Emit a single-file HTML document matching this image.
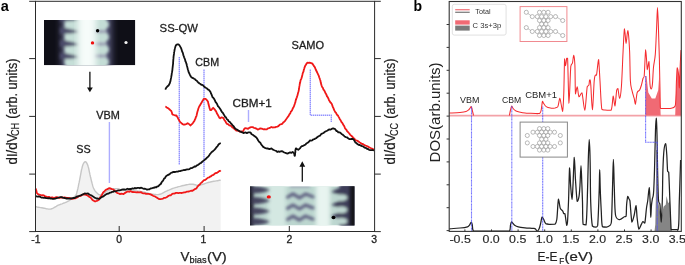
<!DOCTYPE html>
<html><head><meta charset="utf-8"><style>
html,body{margin:0;padding:0;background:#fff;}
body{width:685px;height:265px;overflow:hidden;}
svg{display:block;font-family:"Liberation Sans",sans-serif;will-change:transform;}
</style></head><body>
<svg width="685" height="265" viewBox="0 0 685 265">
<defs>
<filter id="bl1" x="-20%" y="-20%" width="140%" height="140%"><feGaussianBlur stdDeviation="2.2"/></filter>
<filter id="bl2" x="-20%" y="-20%" width="140%" height="140%"><feGaussianBlur stdDeviation="1.6"/></filter>
<filter id="bl3" x="-20%" y="-20%" width="140%" height="140%"><feGaussianBlur stdDeviation="0.6"/></filter>
<filter id="bl4" x="-20%" y="-20%" width="140%" height="140%"><feGaussianBlur stdDeviation="1.9"/></filter>
<filter id="bl5" x="-20%" y="-20%" width="140%" height="140%"><feGaussianBlur stdDeviation="3.2"/></filter>
<clipPath id="c1"><rect x="44" y="20" width="91.3" height="45.3"/></clipPath>
<clipPath id="c2"><rect x="250" y="186.3" width="104.5" height="39.2"/></clipPath>
<clipPath id="cb"><rect x="449.2" y="1.5" width="232" height="230"/></clipPath>
</defs>
<rect width="685" height="265" fill="#fff"/>

<polygon points="35.5,206.7 36.2,206.8 37.1,207.0 38.2,207.2 39.4,207.4 40.6,207.6 41.8,207.8 43.0,208.0 44.1,208.2 45.2,208.4 46.3,208.7 47.5,208.9 48.6,209.1 49.7,209.1 50.8,209.0 51.7,208.8 52.7,208.4 53.6,207.9 54.4,207.4 55.4,206.8 56.3,206.3 57.3,205.7 58.3,205.2 59.2,204.8 60.1,204.5 61.0,204.1 62.0,203.8 63.0,203.4 64.0,203.0 65.0,202.7 65.9,202.3 66.8,201.9 67.7,201.4 68.7,200.9 69.6,200.3 70.6,199.7 71.5,199.0 72.4,198.4 73.2,197.7 74.0,197.1 74.7,196.4 75.3,195.8 76.0,194.9 76.4,194.1 76.7,193.3 76.9,192.4 77.2,191.3 77.5,190.0 77.7,189.2 77.9,188.4 78.1,187.4 78.3,186.5 78.5,185.4 78.7,184.4 78.9,183.3 79.2,182.2 79.4,181.1 79.6,180.1 79.8,179.0 80.0,178.0 80.2,177.0 80.4,175.9 80.6,174.8 80.8,173.7 81.0,172.6 81.2,171.5 81.4,170.5 81.6,169.4 81.9,168.5 82.1,167.6 82.3,166.7 82.5,166.0 83.0,164.5 83.6,163.3 84.2,162.4 84.7,161.9 85.3,161.7 85.8,161.9 86.4,162.5 86.9,163.4 87.5,164.6 88.0,166.0 88.2,166.7 88.5,167.6 88.7,168.5 88.9,169.5 89.1,170.5 89.3,171.6 89.6,172.7 89.8,173.8 90.0,174.9 90.3,176.0 90.5,177.0 90.8,178.0 91.0,179.1 91.3,180.2 91.5,181.3 91.8,182.3 92.1,183.4 92.4,184.4 92.6,185.4 92.9,186.4 93.2,187.2 93.5,188.0 94.1,189.2 94.6,190.2 95.2,191.1 95.8,191.8 96.4,192.4 97.0,193.0 97.8,193.8 98.6,194.5 99.5,194.9 100.8,194.8 101.5,194.5 102.4,194.1 103.3,193.6 104.3,192.9 105.3,192.3 106.3,191.6 107.3,191.0 108.3,190.4 109.2,190.0 110.3,189.6 111.5,189.3 112.6,189.0 113.8,188.8 114.8,188.7 115.8,188.6 116.8,188.6 117.9,188.7 118.9,189.0 119.8,189.4 120.8,189.7 122.0,190.0 122.8,190.1 123.7,190.2 124.7,190.2 125.7,190.3 126.7,190.3 127.7,190.4 128.8,190.4 130.0,190.5 130.9,190.6 131.9,190.6 132.9,190.7 133.8,190.8 134.9,190.8 135.9,190.9 137.0,191.0 138.2,191.2 139.5,191.3 140.8,191.5 141.7,191.6 142.6,191.8 143.6,192.1 144.7,192.3 145.8,192.6 146.9,192.8 148.0,193.1 149.1,193.4 150.3,193.6 151.4,193.9 152.5,194.1 153.6,194.3 154.6,194.4 155.6,194.5 156.5,194.6 157.4,194.6 158.6,194.5 159.7,194.3 160.7,194.0 161.7,193.6 162.6,193.2 163.5,192.7 164.4,192.2 165.2,191.7 166.0,191.3 166.9,190.9 167.7,190.5 168.8,190.1 169.8,189.7 170.7,189.3 171.6,188.9 172.5,188.5 173.5,188.2 174.7,187.8 176.0,187.4 176.9,187.2 177.8,186.9 178.8,186.6 179.9,186.4 181.0,186.1 182.1,185.8 183.3,185.5 184.5,185.3 185.6,185.0 186.7,184.8 187.8,184.6 188.8,184.4 189.7,184.3 190.6,184.2 191.9,184.2 193.1,184.3 194.1,184.5 195.0,184.7 195.9,185.0 196.8,185.2 197.8,185.3 198.9,185.3 199.8,185.2 200.8,184.9 201.8,184.6 202.8,184.3 203.8,184.0 204.9,183.6 206.0,183.2 207.0,182.8 208.1,182.5 209.2,182.2 210.2,182.0 211.4,181.7 212.6,181.5 213.8,181.3 215.0,181.1 216.2,180.9 217.3,180.7 218.4,180.5 219.3,180.3 220.1,180.2 220.7,180.1 220.7,231.5 35.5,231.5" fill="#f2f2f2"/>
<polyline points="35.5,206.7 36.2,206.8 37.1,207.0 38.2,207.2 39.4,207.4 40.6,207.6 41.8,207.8 43.0,208.0 44.1,208.2 45.2,208.4 46.3,208.7 47.5,208.9 48.6,209.1 49.7,209.1 50.8,209.0 51.7,208.8 52.7,208.4 53.6,207.9 54.4,207.4 55.4,206.8 56.3,206.3 57.3,205.7 58.3,205.2 59.2,204.8 60.1,204.5 61.0,204.1 62.0,203.8 63.0,203.4 64.0,203.0 65.0,202.7 65.9,202.3 66.8,201.9 67.7,201.4 68.7,200.9 69.6,200.3 70.6,199.7 71.5,199.0 72.4,198.4 73.2,197.7 74.0,197.1 74.7,196.4 75.3,195.8 76.0,194.9 76.4,194.1 76.7,193.3 76.9,192.4 77.2,191.3 77.5,190.0 77.7,189.2 77.9,188.4 78.1,187.4 78.3,186.5 78.5,185.4 78.7,184.4 78.9,183.3 79.2,182.2 79.4,181.1 79.6,180.1 79.8,179.0 80.0,178.0 80.2,177.0 80.4,175.9 80.6,174.8 80.8,173.7 81.0,172.6 81.2,171.5 81.4,170.5 81.6,169.4 81.9,168.5 82.1,167.6 82.3,166.7 82.5,166.0 83.0,164.5 83.6,163.3 84.2,162.4 84.7,161.9 85.3,161.7 85.8,161.9 86.4,162.5 86.9,163.4 87.5,164.6 88.0,166.0 88.2,166.7 88.5,167.6 88.7,168.5 88.9,169.5 89.1,170.5 89.3,171.6 89.6,172.7 89.8,173.8 90.0,174.9 90.3,176.0 90.5,177.0 90.8,178.0 91.0,179.1 91.3,180.2 91.5,181.3 91.8,182.3 92.1,183.4 92.4,184.4 92.6,185.4 92.9,186.4 93.2,187.2 93.5,188.0 94.1,189.2 94.6,190.2 95.2,191.1 95.8,191.8 96.4,192.4 97.0,193.0 97.8,193.8 98.6,194.5 99.5,194.9 100.8,194.8 101.5,194.5 102.4,194.1 103.3,193.6 104.3,192.9 105.3,192.3 106.3,191.6 107.3,191.0 108.3,190.4 109.2,190.0 110.3,189.6 111.5,189.3 112.6,189.0 113.8,188.8 114.8,188.7 115.8,188.6 116.8,188.6 117.9,188.7 118.9,189.0 119.8,189.4 120.8,189.7 122.0,190.0 122.8,190.1 123.7,190.2 124.7,190.2 125.7,190.3 126.7,190.3 127.7,190.4 128.8,190.4 130.0,190.5 130.9,190.6 131.9,190.6 132.9,190.7 133.8,190.8 134.9,190.8 135.9,190.9 137.0,191.0 138.2,191.2 139.5,191.3 140.8,191.5 141.7,191.6 142.6,191.8 143.6,192.1 144.7,192.3 145.8,192.6 146.9,192.8 148.0,193.1 149.1,193.4 150.3,193.6 151.4,193.9 152.5,194.1 153.6,194.3 154.6,194.4 155.6,194.5 156.5,194.6 157.4,194.6 158.6,194.5 159.7,194.3 160.7,194.0 161.7,193.6 162.6,193.2 163.5,192.7 164.4,192.2 165.2,191.7 166.0,191.3 166.9,190.9 167.7,190.5 168.8,190.1 169.8,189.7 170.7,189.3 171.6,188.9 172.5,188.5 173.5,188.2 174.7,187.8 176.0,187.4 176.9,187.2 177.8,186.9 178.8,186.6 179.9,186.4 181.0,186.1 182.1,185.8 183.3,185.5 184.5,185.3 185.6,185.0 186.7,184.8 187.8,184.6 188.8,184.4 189.7,184.3 190.6,184.2 191.9,184.2 193.1,184.3 194.1,184.5 195.0,184.7 195.9,185.0 196.8,185.2 197.8,185.3 198.9,185.3 199.8,185.2 200.8,184.9 201.8,184.6 202.8,184.3 203.8,184.0 204.9,183.6 206.0,183.2 207.0,182.8 208.1,182.5 209.2,182.2 210.2,182.0 211.4,181.7 212.6,181.5 213.8,181.3 215.0,181.1 216.2,180.9 217.3,180.7 218.4,180.5 219.3,180.3 220.1,180.2 220.7,180.1" fill="none" stroke="#c6c6c6" stroke-width="1.4"/>
<line x1="109.4" y1="122.3" x2="109.4" y2="183" stroke="#5050ff" stroke-width="1.4" stroke-dasharray="1.4 0.6" opacity="0.62"/>
<line x1="179.3" y1="57" x2="179.3" y2="164.5" stroke="#5050ff" stroke-width="1.4" stroke-dasharray="1.4 0.6" opacity="0.62"/>
<line x1="204" y1="69.5" x2="204" y2="177" stroke="#5050ff" stroke-width="1.4" stroke-dasharray="1.4 0.6" opacity="0.62"/>
<line x1="248.5" y1="110.3" x2="248.5" y2="122.3" stroke="#5050ff" stroke-width="1.4" stroke-dasharray="1.4 0.6" opacity="0.62"/>
<polyline points="310.3,69.6 310.3,115.3 331.3,115.3 331.3,122.6" fill="none" stroke="#5050ff" stroke-width="1.4" stroke-dasharray="1.4 0.6" opacity="0.62"/>
<polyline points="35.5,188.5 35.9,189.3 36.5,191.3 36.7,192.7 37.5,193.7 38.3,194.3 39.4,194.6 40.6,195.0 41.8,195.4 43.0,195.2 44.1,195.5 45.2,196.5 46.3,196.6 47.5,197.2 48.9,196.9 49.9,197.4 51.0,197.7 52.2,197.3 53.4,197.9 54.6,197.9 55.9,197.2 57.1,197.2 58.3,197.6 59.5,198.0 60.7,197.6 62.0,197.5 63.2,197.7 64.4,197.4 65.6,197.6 66.7,197.9 67.7,198.0 69.0,198.0 70.2,198.3 71.2,198.5 72.2,198.9 73.4,198.6 74.4,198.1 75.5,198.3 76.7,197.6 77.8,197.0 79.0,196.1 80.0,196.2 81.0,195.7 82.4,194.6 83.5,194.4 84.6,194.5 85.7,194.6 86.6,195.1 87.6,195.3 88.5,196.3 89.5,197.0 90.4,197.4 91.4,198.5 92.3,199.7 93.3,200.5 94.2,201.0 95.1,201.5 96.4,201.0 97.6,200.6 98.9,199.7 99.5,198.7 100.0,197.6 100.6,196.9 101.2,196.0 101.9,194.9 102.5,193.6 103.0,192.7 103.6,192.0 104.6,191.1 105.5,190.2 106.4,189.5 107.4,189.2 108.5,188.4 109.6,188.2 110.8,188.7 112.0,189.2 112.9,189.3 113.9,189.9 114.8,190.5 115.8,191.6 116.8,192.7 117.7,193.1 118.9,193.5 120.1,194.1 121.3,193.7 122.5,193.9 123.6,194.0 124.7,193.1 125.9,192.4 127.1,191.7 128.3,191.5 129.4,191.8 130.5,191.1 131.7,191.8 132.8,192.0 133.9,192.2 135.0,192.2 136.2,192.3 137.5,192.2 138.6,192.3 139.8,192.3 140.8,192.1 142.2,193.1 143.4,193.3 144.9,193.4 146.0,193.8 147.1,193.8 148.4,193.9 149.7,194.1 151.1,194.6 152.0,195.1 153.0,195.7 154.1,196.2 155.1,196.5 156.2,197.3 157.3,197.9 158.3,198.6 159.4,199.1 160.6,199.1 161.8,198.9 163.1,198.6 164.3,197.8 165.5,197.8 166.6,197.2 167.7,196.4 168.8,195.8 169.8,195.3 170.7,195.3 171.7,194.3 172.7,193.7 174.0,193.7 175.0,193.3 176.0,192.9 177.1,192.9 178.3,193.1 179.5,192.8 180.7,192.8 181.9,193.0 183.1,192.7 184.3,192.4 185.5,192.3 186.6,191.7 187.8,191.7 189.0,191.5 190.2,191.0 191.4,190.6 192.5,190.8 193.6,190.0 194.7,189.2 195.6,188.9 196.5,188.3 197.3,186.8 198.2,185.9 199.0,185.1 199.8,184.6 200.6,183.2 201.4,182.8 202.2,182.0 203.0,181.1 204.0,180.1 205.0,180.0 206.1,179.2 207.1,178.4 208.1,177.6 209.1,177.4 210.2,176.6 211.3,176.1 212.3,175.2 213.5,174.8 214.7,173.6 215.9,173.0 217.1,172.8 218.2,172.1 219.2,171.0 220.1,171.0 220.7,170.3" fill="none" stroke="#f01818" stroke-width="1.8" stroke-linejoin="round"/>
<polyline points="35.5,195.8 36.3,196.4 37.5,196.7 38.8,196.3 40.1,196.7 41.3,197.6 42.5,197.7 43.6,197.8 44.7,197.7 46.0,198.1 47.0,198.2 48.0,198.3 49.1,198.1 50.3,198.5 51.4,198.5 52.6,198.8 53.8,198.9 55.1,198.7 56.4,198.1 57.8,197.8 59.0,197.5 60.2,197.2 61.5,197.2 62.7,197.7 63.8,197.8 64.9,198.0 66.0,198.5 67.1,198.4 68.1,198.6 69.2,198.5 70.3,198.3 71.5,198.5 72.5,198.1 73.5,198.0 74.6,198.0 75.7,197.3 76.9,196.4 78.0,196.5 79.0,196.0 80.2,195.5 81.4,195.1 82.5,194.5 83.6,194.1 84.7,193.4 85.7,193.7 87.0,193.7 88.0,193.4 89.1,194.4 90.4,195.0 91.3,195.3 92.3,196.0 93.4,196.7 94.5,197.7 95.7,198.0 96.8,198.7 97.9,198.5 99.0,198.8 100.1,198.4 101.2,197.4 102.2,196.8 103.3,196.4 104.4,195.6 105.5,194.8 106.6,194.1 107.6,193.7 108.7,193.5 109.8,192.6 110.9,192.7 111.9,191.8 113.0,191.9 114.1,191.1 115.2,191.4 116.4,191.0 117.5,190.6 118.6,190.4 119.6,190.4 120.6,190.2 121.9,189.7 123.1,189.4 124.2,189.5 125.2,189.7 126.2,189.3 127.5,188.7 128.6,189.2 130.4,189.0 131.3,189.0 132.4,188.4 133.6,188.7 134.8,188.0 136.1,188.3 137.4,187.9 138.7,187.8 139.8,188.3 140.8,187.7 142.3,188.2 143.6,188.8 144.7,188.7 145.8,189.0 147.0,189.7 148.2,189.3 149.5,189.3 150.7,188.4 152.0,188.3 153.2,187.7 154.2,187.8 155.3,187.1 156.3,187.4 157.3,186.3 158.4,186.3 159.4,184.9 160.1,184.4 160.8,184.0 161.5,182.5 162.2,181.5 162.9,180.9 163.6,179.6 164.3,178.3 165.0,178.2 165.7,176.7 166.7,175.7 167.7,175.1 168.7,174.6 169.7,174.1 170.7,173.0 171.9,172.7 173.0,172.0 174.1,172.0 175.3,172.0 176.5,171.7 177.8,171.6 179.0,171.2 180.2,171.1 181.4,170.7 182.6,170.4 183.8,170.0 184.9,170.2 186.1,169.7 187.3,169.3 188.5,169.3 189.5,169.2 190.6,168.2 191.7,168.2 192.8,167.5 193.8,167.1 194.9,166.3 195.8,166.5 196.8,165.4 197.8,165.1 198.9,164.3 199.9,163.4 200.8,163.2 201.7,162.2 202.5,161.5 203.3,160.9 204.4,160.1 205.2,159.3 205.9,158.9 206.8,157.8 207.5,157.4 208.3,156.5 209.1,155.6 209.9,154.1 210.7,153.3 211.5,152.3 212.5,151.6 213.5,150.6 214.4,149.8 215.3,148.9 216.1,147.7 217.1,146.7 217.8,145.8 218.5,144.5 219.8,143.5 220.8,143.2" fill="none" stroke="#111" stroke-width="1.8" stroke-linejoin="round"/>
<polyline points="165.3,106.7 166.1,106.9 167.1,107.8 168.4,108.4 169.6,109.5 170.5,110.3 171.3,111.0 171.8,112.3 172.3,114.3 172.9,114.7 174.0,115.0 175.2,115.5 176.4,115.5 177.0,116.5 177.6,117.3 178.2,118.7 178.7,119.4 179.3,120.8 180.3,122.2 181.2,122.9 182.2,123.9 183.7,124.7 185.1,124.5 186.3,124.1 187.5,123.2 188.4,123.6 189.4,124.4 190.4,125.5 191.3,124.7 192.2,123.9 193.1,122.8 193.9,121.5 194.5,120.7 194.9,119.4 195.4,118.7 195.8,117.3 196.3,116.4 196.6,115.4 197.0,113.5 197.3,112.3 197.6,111.1 197.9,110.4 198.3,108.8 198.6,108.0 199.2,106.5 199.7,105.7 200.3,104.7 200.9,103.7 201.5,102.8 202.1,101.6 202.8,100.6 203.4,99.4 203.9,98.8 205.6,98.8 206.4,99.6 207.2,100.5 208.0,101.7 208.3,103.3 208.6,104.6 209.0,105.9 209.3,107.0 209.6,108.4 209.9,109.0 210.3,110.2 211.3,110.0 212.3,108.7 213.2,107.8 214.9,109.6 215.5,110.7 216.1,111.2 216.7,113.0 217.3,114.0 217.9,115.0 218.5,116.1 219.3,117.7 220.2,118.4 221.3,117.4 222.5,117.6 223.5,118.1 224.3,120.0 225.5,121.4 226.1,122.8 227.0,123.9 228.0,124.2 229.3,125.4 230.5,125.6 231.4,126.2 232.2,127.3 233.1,127.6 234.0,128.5 235.2,129.5 236.3,130.5 237.5,130.7 238.8,131.0 240.0,131.8 241.1,131.5 242.8,131.4 243.5,130.4 244.3,128.8 245.1,128.1 246.6,128.3 248.1,128.8 249.8,127.6 251.1,127.1 252.7,127.1 253.9,127.8 255.2,128.1 256.3,128.6 257.6,129.5 258.6,129.4 259.5,128.7 260.4,128.5 261.7,128.6 263.3,129.3 264.4,129.1 265.6,129.4 266.8,129.4 267.9,128.4 269.0,128.1 270.3,127.6 271.4,127.0 272.6,127.5 273.8,127.4 275.0,127.4 276.2,126.8 277.3,126.6 278.4,126.1 279.6,124.8 280.6,124.3 281.5,124.1 282.5,123.6 283.4,122.3 284.3,121.7 285.1,120.9 285.8,119.7 286.5,118.8 287.2,117.8 287.8,116.9 288.5,116.1 289.1,114.9 289.6,114.1 290.3,113.2 290.8,111.7 291.4,111.1 292.1,110.2 292.7,108.7 293.3,107.5 293.8,106.8 294.3,105.3 294.7,104.1 295.0,103.1 295.4,102.1 295.7,100.4 296.1,99.4 296.4,98.3 296.8,97.6 297.2,96.1 297.5,95.3 297.9,93.6 298.2,92.5 298.5,91.5 298.7,90.6 299.0,89.0 299.2,87.5 299.4,86.1 299.6,85.2 299.8,83.7 300.0,83.2 300.2,82.3 300.6,80.2 301.0,79.4 301.4,78.6 301.7,77.5 302.0,76.4 302.4,74.8 302.7,73.4 303.1,72.3 303.5,71.5 303.8,69.9 304.2,68.7 304.5,67.6 304.9,66.6 305.4,65.4 305.9,64.9 306.6,63.5 307.5,62.7 308.6,62.9 309.6,62.6 311.1,63.1 312.5,63.7 313.3,65.1 314.0,66.2 314.8,67.1 315.3,68.4 315.7,69.5 316.2,70.5 316.7,71.5 317.2,72.5 317.7,73.6 318.2,74.7 318.8,75.9 319.3,77.6 319.7,78.5 320.1,79.8 320.4,80.5 320.7,82.3 320.9,83.0 321.2,84.2 321.5,85.3 321.9,86.4 322.4,87.4 322.9,87.9 323.4,89.5 324.0,90.1 324.7,91.3 325.3,92.7 325.9,93.7 326.4,94.6 326.9,96.1 327.5,96.9 328.0,97.8 328.5,98.7 329.0,100.2 329.4,100.7 330.3,102.3 331.1,103.0 331.8,104.0 332.3,105.4 332.8,106.9 333.3,107.7 333.8,109.2 334.3,110.4 334.9,111.4 335.4,112.4 335.9,112.6 336.6,114.0 337.4,115.3 337.9,115.4 338.5,116.6 339.1,117.6 339.7,118.9 340.4,119.9 340.9,120.9 341.5,122.2 342.1,122.6 342.6,123.5 343.3,124.7 343.8,125.6 344.4,126.5 345.0,128.2 345.6,129.1 346.2,129.5 346.9,130.8 347.6,131.6 348.4,132.5 349.3,133.5 350.1,134.6 350.9,135.4 351.6,136.0 352.5,136.9 353.3,137.9 354.2,138.5 355.1,139.6 356.0,140.4 356.9,140.7 357.9,141.1 358.8,141.7 359.8,142.4 361.0,143.2 362.1,144.0 363.2,144.2 364.4,145.1 365.6,145.6 366.8,146.0 368.0,146.6 369.1,147.2 370.5,148.0 371.9,148.5 372.9,149.2 374.0,149.5" fill="none" stroke="#f01818" stroke-width="1.8" stroke-linejoin="round"/>
<polyline points="165.3,89.6 165.8,88.5 166.6,87.3 167.3,86.5 168.8,85.2 169.1,84.5 169.4,83.9 169.8,83.3 170.1,82.1 170.5,80.9 170.8,79.1 171.1,77.9 171.3,76.7 171.5,75.5 171.7,74.3 171.8,73.1 172.0,72.4 172.2,71.1 172.4,69.8 172.5,68.5 172.7,66.8 172.8,65.8 172.9,65.1 173.1,63.7 173.1,62.5 173.2,61.4 173.3,59.7 173.4,58.9 173.5,57.6 173.6,56.4 173.8,55.0 174.0,53.9 174.1,52.3 174.3,51.7 174.5,50.3 174.8,48.9 175.0,47.7 175.2,47.3 175.9,45.3 176.7,44.7 177.5,44.4 178.5,44.4 179.5,45.4 180.5,47.1 180.9,47.8 181.3,48.7 181.7,50.0 182.2,51.7 182.6,52.3 183.0,53.6 183.4,55.3 183.8,56.2 184.2,57.6 184.7,58.7 185.1,59.8 185.5,61.5 185.9,62.1 186.3,63.4 186.6,64.3 186.9,65.8 187.2,66.7 187.5,67.9 187.8,69.3 188.1,70.0 188.4,71.2 188.7,72.3 189.2,73.2 189.7,74.3 190.3,75.5 191.0,76.9 191.9,77.6 193.0,78.1 194.1,78.8 195.1,79.3 196.0,80.3 196.8,80.7 197.7,81.9 198.6,82.8 199.5,83.5 200.5,84.0 201.4,84.9 202.4,84.8 203.3,85.6 204.6,87.1 205.7,87.8 206.8,88.3 207.8,89.4 208.8,89.8 209.7,91.0 210.2,91.4 210.6,92.3 211.0,93.5 211.5,94.4 212.0,95.7 212.5,97.1 213.1,97.6 213.7,98.3 214.3,99.3 214.9,100.4 215.5,101.9 216.1,102.6 216.7,103.5 217.2,104.3 217.8,106.0 218.4,106.5 219.0,107.3 219.7,108.2 220.4,109.3 221.1,110.5 221.8,111.9 222.5,112.5 223.2,113.4 223.8,114.7 224.5,115.5 225.1,117.0 225.8,117.2 226.5,118.4 227.2,119.4 228.0,120.0 228.7,121.3 229.4,121.7 230.3,122.5 231.2,123.7 232.0,124.4 232.9,125.7 233.8,126.5 234.7,128.0 235.5,128.8 236.4,129.3 237.6,129.8 238.7,130.8 239.9,131.4 241.1,131.9 242.2,132.3 243.4,133.1 244.6,132.6 245.8,132.5 246.9,133.1 248.5,132.3 249.8,132.4 250.7,132.7 251.6,134.3 252.7,134.8 254.0,135.7 255.1,136.5 256.0,137.2 256.7,137.9 257.4,139.0 258.1,140.4 258.8,141.3 259.7,142.3 260.3,142.7 261.0,144.0 261.7,145.1 262.5,145.9 263.2,146.9 264.3,147.5 265.4,148.1 266.7,148.5 267.7,148.4 268.9,149.0 270.1,149.0 271.4,148.4 272.5,149.4 273.8,150.0 275.0,150.5 276.1,150.8 277.2,152.0 278.4,151.4 279.4,151.8 280.7,151.4 281.8,151.2 283.0,151.7 284.3,152.5 285.5,152.9 286.6,153.3 287.9,153.5 289.0,152.8 290.1,152.4 291.4,152.9 292.6,152.0 293.6,152.8 294.2,153.4 294.5,155.5 294.8,155.8 295.0,155.2 295.1,153.7 295.3,152.4 295.4,150.3 295.6,149.4 295.9,148.3 297.0,149.1 298.3,149.8 299.1,149.1 299.9,148.4 300.8,147.1 301.8,146.2 302.7,146.1 303.7,145.4 304.6,145.1 305.6,144.4 306.5,143.4 307.5,142.8 308.3,142.4 309.2,141.4 310.0,140.4 311.1,140.6 312.2,140.3 313.5,139.3 314.4,139.2 315.3,138.5 316.3,138.2 317.2,137.2 318.2,136.5 319.1,136.0 320.0,135.7 321.0,134.3 321.9,133.6 322.8,133.3 323.7,132.9 324.7,131.9 325.7,131.3 326.6,131.0 327.5,130.5 329.0,129.4 330.3,129.7 331.6,128.9 333.2,128.4 334.6,128.8 335.4,129.4 336.4,131.0 337.3,131.1 338.3,132.3 339.4,132.3 340.5,132.9 341.5,133.9 342.5,134.5 343.5,135.4 344.6,136.4 345.7,137.1 346.9,137.3 348.1,138.3 349.2,139.0 350.4,139.1 351.6,139.0 352.7,139.0 353.6,139.4 354.4,140.7 355.3,142.4 356.3,143.0 357.4,144.0 358.5,144.8 359.7,145.0 360.9,145.6 362.1,146.2 363.3,146.5 364.5,147.6 365.6,147.8 366.9,148.8 368.0,149.0 369.1,149.9 370.3,150.1 371.6,150.1 372.6,150.1 374.0,150.5" fill="none" stroke="#111" stroke-width="1.8" stroke-linejoin="round"/>
<g clip-path="url(#c1)">
<rect x="44" y="20" width="91.3" height="45.3" fill="#0f0f17"/>
<g filter="url(#bl5)">
<rect x="61" y="12" width="51" height="62" fill="#4e4e6e"/>
</g><g filter="url(#bl2)">
<rect x="70" y="12" width="36" height="62" fill="#c4ddd6"/>
<circle cx="69.8" cy="24.4" r="5.6" fill="#c6dfd8"/>
<circle cx="69.8" cy="37" r="5.6" fill="#c6dfd8"/>
<circle cx="69.8" cy="49.6" r="5.6" fill="#c6dfd8"/>
<circle cx="69.8" cy="62.2" r="5.6" fill="#c6dfd8"/>
<path d="M60,27.5 Q71,28.0 79.5,32.1 Q71,34.2 60,34.1 Z" fill="#4c4c6a"/>
<path d="M60,40.1 Q71,40.6 79.5,44.699999999999996 Q71,46.8 60,46.699999999999996 Z" fill="#4c4c6a"/>
<path d="M60,52.7 Q71,53.2 79.5,57.3 Q71,59.4 60,59.3 Z" fill="#4c4c6a"/>
<path d="M60,14.899999999999999 Q71,15.399999999999999 79.5,19.5 Q71,21.599999999999998 60,21.5 Z" fill="#4c4c6a"/>
<ellipse cx="104" cy="24.5" rx="5" ry="5" fill="#c4ddd6"/>
<ellipse cx="104" cy="37" rx="5" ry="5" fill="#c4ddd6"/>
<ellipse cx="104" cy="49.5" rx="5" ry="5" fill="#c4ddd6"/>
<ellipse cx="104" cy="62" rx="5" ry="5" fill="#c4ddd6"/>
<ellipse cx="100.5" cy="31.5" rx="7" ry="1.6" fill="#9494ae"/>
<ellipse cx="100.5" cy="44" rx="7" ry="1.6" fill="#9494ae"/>
<ellipse cx="100.5" cy="56" rx="7" ry="1.6" fill="#9494ae"/>
</g><g filter="url(#bl5)">
<rect x="78" y="12" width="18" height="62" fill="#f6fcfa"/>
</g>
</g>
<circle cx="97.6" cy="30.7" r="1.7" fill="#000"/>
<circle cx="92.5" cy="42.9" r="1.7" fill="#f01010"/>
<circle cx="126" cy="42.5" r="1.6" fill="#f4f4f4"/>
<g clip-path="url(#c2)">
<rect x="250" y="186.3" width="104.5" height="39.2" fill="#bcd6cf"/>
<g filter="url(#bl1)">
<rect x="268" y="180" width="18" height="50" fill="#d4e8e2"/>
<rect x="316" y="180" width="14" height="50" fill="#e8f4f0"/>
<rect x="341" y="180" width="20" height="50" fill="#5a5a78"/>
</g><g filter="url(#bl2)">
<rect x="244" y="180" width="9.5" height="50" fill="#1a1a28"/>
<path d="M252,186.20000000000002 Q263,186.4 270,190.0 Q263,193.60000000000002 252,193.4 Z" fill="#44445f"/>
<path d="M252,197.0 Q263,197.2 270,200.79999999999998 Q263,204.4 252,204.2 Z" fill="#44445f"/>
<path d="M252,207.4 Q263,207.6 270,211.2 Q263,214.8 252,214.6 Z" fill="#44445f"/>
<path d="M252,218.0 Q263,218.2 270,221.79999999999998 Q263,225.4 252,225.2 Z" fill="#44445f"/>
<polyline points="287.5,197.29999999999998 293,193.9 299.5,197.9 305.5,193.9 313,196.9" fill="none" stroke="#5c5c7e" stroke-width="3" stroke-linejoin="round" stroke-linecap="round"/>
<polyline points="287.5,208.39999999999998 293,205.0 299.5,209.0 305.5,205.0 313,208.0" fill="none" stroke="#5c5c7e" stroke-width="3" stroke-linejoin="round" stroke-linecap="round"/>
<polyline points="287.5,219.5 293,216.10000000000002 299.5,220.10000000000002 305.5,216.10000000000002 313,219.10000000000002" fill="none" stroke="#5c5c7e" stroke-width="3" stroke-linejoin="round" stroke-linecap="round"/>
<line x1="290" y1="186.6" x2="310" y2="186.6" stroke="#9090aa" stroke-width="1.6"/>
<rect x="340" y="180" width="12" height="50" fill="#3c3c58"/>
<path d="M331,191.8 Q338,187.9 342,187.70000000000002 L342,194.9 Q338,194.70000000000002 331,191.8 Z" fill="#3c3c58"/>
<path d="M331,204.8 Q338,200.9 342,200.70000000000002 L342,207.9 Q338,207.70000000000002 331,204.8 Z" fill="#3c3c58"/>
<path d="M331,216.0 Q338,212.1 342,211.9 L342,219.1 Q338,218.9 331,216.0 Z" fill="#3c3c58"/>
<ellipse cx="341.5" cy="197.7" rx="5.8" ry="3.3" fill="#bfd8d1"/>
<ellipse cx="341.5" cy="209.8" rx="5.8" ry="3.3" fill="#bfd8d1"/>
<ellipse cx="341.5" cy="221.2" rx="5.8" ry="3.3" fill="#bfd8d1"/>
<rect x="349.5" y="180" width="12" height="50" fill="#14141e"/>
</g>
</g>
<ellipse cx="268.8" cy="196.9" rx="2.1" ry="1.7" fill="#f01010"/>
<ellipse cx="333.5" cy="217.5" rx="2" ry="1.7" fill="#000"/>
<line x1="89.9" y1="71.8" x2="89.9" y2="88" stroke="#111" stroke-width="1.3"/>
<polygon points="87,87.4 92.8,87.4 89.9,92.2" fill="#111"/>
<line x1="302.3" y1="166" x2="302.3" y2="181.7" stroke="#111" stroke-width="1.3"/>
<polygon points="299.4,166.8 305.2,166.8 302.3,161.3" fill="#111"/>
<rect x="35.5" y="1.3" width="339.1" height="230.2" fill="none" stroke="#2a2a2a" stroke-width="1"/>
<line x1="29.2" y1="1.3" x2="35.5" y2="1.3" stroke="#2a2a2a" stroke-width="1"/>
<line x1="374.6" y1="1.3" x2="380.8" y2="1.3" stroke="#2a2a2a" stroke-width="1"/>
<line x1="29.2" y1="58.6" x2="35.5" y2="58.6" stroke="#2a2a2a" stroke-width="1"/>
<line x1="374.6" y1="58.6" x2="380.8" y2="58.6" stroke="#2a2a2a" stroke-width="1"/>
<line x1="29.2" y1="116.4" x2="35.5" y2="116.4" stroke="#2a2a2a" stroke-width="1"/>
<line x1="374.6" y1="116.4" x2="380.8" y2="116.4" stroke="#2a2a2a" stroke-width="1"/>
<line x1="29.2" y1="174.1" x2="35.5" y2="174.1" stroke="#2a2a2a" stroke-width="1"/>
<line x1="374.6" y1="174.1" x2="380.8" y2="174.1" stroke="#2a2a2a" stroke-width="1"/>
<line x1="29.2" y1="231.6" x2="35.5" y2="231.6" stroke="#2a2a2a" stroke-width="1"/>
<line x1="374.6" y1="231.6" x2="380.8" y2="231.6" stroke="#2a2a2a" stroke-width="1"/>
<line x1="119.2" y1="226" x2="119.2" y2="231.5" stroke="#2a2a2a" stroke-width="1"/>
<line x1="204.1" y1="226" x2="204.1" y2="231.5" stroke="#2a2a2a" stroke-width="1"/>
<line x1="289.3" y1="226" x2="289.3" y2="231.5" stroke="#2a2a2a" stroke-width="1"/>
<text x="35.8" y="243" font-size="10.4" fill="#222" stroke="#222" stroke-width="0.3" text-anchor="middle">-1</text>
<text x="119.1" y="243" font-size="10.4" fill="#222" stroke="#222" stroke-width="0.3" text-anchor="middle">0</text>
<text x="203.4" y="243" font-size="10.4" fill="#222" stroke="#222" stroke-width="0.3" text-anchor="middle">1</text>
<text x="289.3" y="243" font-size="10.4" fill="#222" stroke="#222" stroke-width="0.3" text-anchor="middle">2</text>
<text x="374.1" y="243" font-size="10.4" fill="#222" stroke="#222" stroke-width="0.3" text-anchor="middle">3</text>
<text x="76.2" y="153.4" font-size="11.5" fill="#1e1e1e" stroke="#1e1e1e" stroke-width="0.3" textLength="14.4" lengthAdjust="spacingAndGlyphs">SS</text>
<text x="96.3" y="119.2" font-size="11" fill="#1e1e1e" stroke="#1e1e1e" stroke-width="0.3" textLength="23.6" lengthAdjust="spacingAndGlyphs">VBM</text>
<text x="159.6" y="31.8" font-size="11.2" fill="#1e1e1e" stroke="#1e1e1e" stroke-width="0.3" textLength="38.3" lengthAdjust="spacingAndGlyphs">SS-QW</text>
<text x="195.3" y="66" font-size="11" fill="#1e1e1e" stroke="#1e1e1e" stroke-width="0.3" textLength="23.8" lengthAdjust="spacingAndGlyphs">CBM</text>
<text x="232.6" y="107" font-size="11" fill="#1e1e1e" stroke="#1e1e1e" stroke-width="0.3" textLength="39.2" lengthAdjust="spacingAndGlyphs">CBM+1</text>
<text x="291.6" y="49.2" font-size="11" fill="#1e1e1e" stroke="#1e1e1e" stroke-width="0.3" textLength="32.4" lengthAdjust="spacingAndGlyphs">SAMO</text>
<text x="0.8" y="10.7" font-size="14.5" font-weight="bold" fill="#000">a</text>
<text x="413.6" y="10.8" font-size="14" font-weight="bold" fill="#000">b</text>
<g fill="#1e1e1e" stroke="#1e1e1e" stroke-width="0.25">
<text x="180.4" y="260.9" font-size="13.4">V</text>
<text x="189.6" y="263.4" font-size="9" textLength="17" lengthAdjust="spacingAndGlyphs">bias</text>
<text x="207" y="260.9" font-size="13.4" textLength="19.8" lengthAdjust="spacingAndGlyphs">(V)</text>
</g>
<g transform="translate(16.5,164.4) rotate(-90)" fill="#1e1e1e" stroke="#1e1e1e" stroke-width="0.2">
<text x="0" y="0" font-size="14.6" textLength="30.6" lengthAdjust="spacingAndGlyphs">dI/dV</text>
<text x="28.4" y="2.8" font-size="10" textLength="13.2" lengthAdjust="spacingAndGlyphs">CH</text>
<text x="45.6" y="0" font-size="14.6" textLength="60.2" lengthAdjust="spacingAndGlyphs">(arb. units)</text>
</g>
<g transform="translate(395.3,164.4) rotate(-90)" fill="#1e1e1e" stroke="#1e1e1e" stroke-width="0.2">
<text x="0" y="0" font-size="14.6" textLength="30.6" lengthAdjust="spacingAndGlyphs">dI/dV</text>
<text x="28.4" y="2.8" font-size="10" textLength="13.2" lengthAdjust="spacingAndGlyphs">CC</text>
<text x="45.6" y="0" font-size="14.6" textLength="60.2" lengthAdjust="spacingAndGlyphs">(arb. units)</text>
</g>
<g clip-path="url(#cb)">
<line x1="449.2" y1="115.6" x2="681.3" y2="115.6" stroke="#f3a2a8" stroke-width="1.6"/>
<polygon points="645.3,115.5 645.5,76.0 646.5,76.0 648.3,92.5 651.8,98.4 655.3,98.4 658.2,90.2 659.2,76.0 659.8,90.0 660.4,108.0 660.7,115.5" fill="#f06a74"/>
<polygon points="675.2,115.5 675.5,106.0 676.5,80.0 677.3,67.8 678.7,76.0 679.3,87.9 680.4,61.4 681.0,50.0 681.0,115.5" fill="#f06a74"/>
<polygon points="654.5,231.0 655.3,224.4 655.8,200.0 656.2,150.0 657.0,150.0 658.0,200.0 660.0,212.0 661.1,222.0 662.5,212.0 663.5,206.8 665.8,204.5 666.5,196.0 667.5,200.0 668.2,203.3 669.9,201.0 671.1,229.1 672.0,231.0" fill="#858585"/>
<path d="M449.2,113.0 C451.0,112.9 457.2,112.8 460.0,112.5 C462.8,112.2 464.5,112.0 466.0,111.5 C467.5,111.0 468.2,110.2 469.0,109.5 C469.8,108.8 470.1,108.0 470.5,107.5 C470.9,107.0 470.9,106.4 471.1,106.4 C471.3,106.5 471.5,107.1 471.8,108.0 C472.1,108.9 472.4,110.8 472.7,112.0 C473.0,113.2 473.4,114.9 473.5,115.5" fill="none" stroke="#f52c30" stroke-width="1.05" stroke-linejoin="round"/>
<path d="M509.4,115.5 C509.6,114.6 510.1,111.6 510.5,110.0 C510.9,108.4 511.4,106.4 511.7,106.0 C512.0,106.0 512.1,106.9 512.5,107.5 C512.9,108.1 513.4,108.9 514.0,109.5 C514.6,110.1 515.1,110.6 516.0,111.0 C516.9,111.4 517.7,111.7 519.2,112.0 C520.7,112.3 523.2,112.8 525.0,113.0 C526.8,113.2 527.8,113.2 530.0,113.3 C532.2,113.4 536.3,113.6 538.0,113.6 C539.7,113.5 539.5,113.6 540.0,113.0 C540.5,112.4 540.8,112.0 541.2,110.0 C541.6,108.0 542.1,102.4 542.5,101.3 C542.9,101.3 543.0,102.4 543.5,103.2 C544.0,104.0 544.8,105.3 545.5,106.0 C546.2,106.7 547.0,107.2 548.0,107.6 C549.0,108.0 550.2,108.1 551.4,108.2 C552.6,108.2 553.9,108.2 555.0,108.0 C556.1,107.7 557.1,108.0 557.9,106.5 C558.7,104.9 559.2,98.5 559.8,98.2 C560.3,98.2 560.7,102.3 561.2,104.5 C561.7,106.7 562.2,111.4 562.6,111.4 C563.0,109.4 563.5,101.5 563.8,92.7 C564.1,83.9 564.3,63.3 564.6,58.8 C564.9,58.8 565.1,65.8 565.5,65.8 C565.9,65.7 566.4,59.5 566.7,58.2 C567.1,58.2 567.2,58.2 567.6,58.2 C568.0,65.7 568.5,101.8 569.0,103.2 C569.5,103.2 570.2,73.1 570.8,66.4 C571.4,62.9 572.0,64.8 572.5,62.9 C573.0,61.0 573.3,55.3 573.7,55.3 C574.1,55.7 574.6,58.8 574.9,65.2 C575.2,71.6 575.1,90.3 575.5,93.9 C575.9,93.9 576.6,86.8 577.2,86.8 C577.8,87.3 578.2,95.8 579.0,96.8 C579.8,96.8 580.9,92.7 581.9,92.7 C582.9,94.9 583.9,110.2 584.8,110.2 C585.7,109.2 586.5,91.0 587.2,86.8 C587.9,85.1 588.5,86.2 588.9,85.1 C589.3,84.0 589.3,81.3 589.5,80.4 C589.7,79.8 589.9,79.8 590.1,79.8 C590.3,80.6 590.4,80.0 590.8,85.0 C591.2,90.0 591.8,109.7 592.4,109.7 C593.0,109.0 593.7,86.8 594.2,81.0 C594.7,75.2 595.0,76.1 595.4,75.1 C595.8,75.1 596.1,75.1 596.5,75.1 C596.9,73.4 597.4,67.8 597.7,65.2 C598.1,62.6 598.2,59.4 598.6,59.4 C599.0,62.0 599.5,72.7 600.0,81.0 C600.5,89.3 601.0,104.3 601.8,109.1 C602.6,110.0 603.5,109.8 605.0,110.0 C606.5,110.2 609.7,110.2 611.1,110.2 C612.5,107.9 612.6,96.7 613.2,96.0 C613.8,96.0 614.3,106.0 614.9,106.0 C615.5,105.0 616.2,93.1 616.7,90.2 C617.2,88.5 617.4,88.5 617.9,88.5 C618.4,89.9 619.0,98.4 619.6,98.4 C620.2,98.1 620.8,94.6 621.4,86.7 C622.0,78.8 622.6,60.6 623.1,51.0 C623.6,41.4 624.0,30.1 624.5,28.8 C625.0,28.8 625.6,43.1 626.1,43.4 C626.6,43.4 627.2,30.5 627.8,30.5 C628.4,31.8 629.2,42.6 629.6,51.0 C630.0,59.4 630.0,74.5 630.4,81.0 C630.8,87.5 631.3,87.3 631.9,90.2 C632.5,93.1 633.6,96.1 634.2,98.4 C634.8,100.7 634.9,104.2 635.4,104.2 C635.9,103.2 636.5,94.8 637.2,92.5 C637.9,90.2 638.8,91.4 639.5,90.2 C640.2,89.0 640.7,87.5 641.3,85.5 C641.9,83.5 642.5,80.1 643.0,78.5 C643.5,76.9 643.8,78.5 644.2,76.0 C644.7,71.2 645.2,50.8 645.7,49.7 C646.2,49.7 646.8,67.6 647.3,69.6 C647.8,69.6 648.4,61.4 648.9,61.4 C649.4,63.9 649.6,79.8 650.0,84.4 C650.4,89.0 650.8,89.0 651.2,89.0 C651.6,89.0 652.0,88.0 652.4,84.4 C652.8,80.8 653.0,72.2 653.5,67.2 C654.0,62.2 654.8,60.6 655.3,54.4 C655.8,48.2 656.1,37.8 656.5,30.0 C656.9,22.2 657.2,7.5 657.5,7.5 C657.8,7.5 658.2,21.2 658.5,30.0 C658.8,38.8 659.1,50.0 659.4,60.0 C659.6,70.0 659.8,82.0 660.0,90.0 C660.2,98.0 660.1,104.9 660.4,108.0 C660.7,108.5 660.4,108.4 662.0,108.5 C663.6,108.5 667.8,108.5 670.0,108.5 C672.2,108.1 674.1,108.5 675.2,106.0 C676.3,101.2 676.1,86.4 676.5,80.0 C676.9,73.6 676.9,68.5 677.3,67.8 C677.7,67.8 678.4,72.7 678.7,76.0 C679.0,79.3 679.0,87.9 679.3,87.9 C679.6,85.5 680.1,67.7 680.4,61.4 C680.7,55.1 680.9,51.9 681.0,50.0" fill="none" stroke="#f52c30" stroke-width="1.05" stroke-linejoin="round"/>
<path d="M449.2,228.9 C451.0,228.8 456.9,228.3 460.0,228.0 C463.1,227.7 465.9,227.3 467.5,226.8 C469.1,226.3 468.9,225.8 469.5,225.0 C470.1,224.2 470.8,222.1 471.3,222.1 C471.8,222.1 472.0,223.5 472.3,225.0 C472.6,226.5 472.3,230.0 473.4,231.0 C479.6,231.0 503.4,231.0 509.6,231.0 C510.5,230.0 510.2,226.5 510.5,225.0 C510.8,223.5 511.2,222.1 511.6,221.8 C512.0,221.8 512.4,222.9 513.0,223.5 C513.6,224.1 514.1,224.9 515.0,225.5 C515.9,226.1 516.6,226.4 518.3,226.8 C520.0,227.2 522.5,227.5 525.0,227.8 C527.5,228.1 531.4,228.2 533.1,228.4 C534.9,228.6 534.9,228.5 535.5,229.0 C536.1,229.5 536.4,231.2 537.0,231.2 C537.6,231.2 538.4,230.2 539.0,229.0 C539.6,227.8 540.0,226.0 540.5,224.0 C541.0,222.0 541.5,218.0 542.0,217.2 C542.5,217.2 542.9,217.9 543.5,219.0 C544.1,220.1 544.7,222.7 545.8,223.6 C546.9,224.3 548.5,224.2 550.0,224.3 C551.5,224.3 553.9,224.3 555.0,224.2 C556.1,223.4 556.3,222.8 556.8,219.5 C557.3,216.2 557.6,207.7 557.9,204.3 C558.2,200.9 558.3,199.2 558.5,199.0 C558.7,199.0 559.0,201.4 559.3,203.0 C559.6,204.6 559.8,207.1 560.3,208.4 C560.8,209.7 562.0,209.9 562.6,210.8 C563.2,211.7 563.4,213.2 563.8,213.7 C564.2,213.7 564.4,213.7 564.9,213.7 C565.4,215.6 566.3,224.0 566.7,225.4 C567.1,225.4 567.2,225.4 567.5,222.0 C567.8,218.1 568.1,211.0 568.5,202.0 C568.9,193.0 569.2,170.6 569.6,167.8 C570.0,167.8 570.2,179.7 570.6,185.0 C571.0,190.3 571.6,199.6 572.0,199.6 C572.4,199.6 572.6,192.1 573.0,185.0 C573.4,177.9 573.9,158.1 574.3,157.3 C574.7,157.3 575.0,172.7 575.5,180.0 C576.0,187.3 576.6,198.5 577.2,201.3 C577.8,201.3 578.5,199.3 579.0,196.6 C579.5,193.9 579.7,190.2 580.0,185.0 C580.3,179.8 580.7,165.5 581.0,165.5 C581.3,165.5 581.6,178.9 581.9,185.0 C582.1,191.1 582.3,195.5 582.5,202.0 C582.7,208.5 582.5,220.4 583.1,224.2 C583.7,224.8 585.3,224.8 586.0,224.8 C586.7,221.1 586.8,212.8 587.2,202.0 C587.6,191.2 588.0,170.4 588.3,160.0 C588.6,149.6 588.9,139.6 589.2,139.6 C589.5,139.6 589.9,149.6 590.1,160.0 C590.4,170.4 590.3,191.0 590.7,202.0 C591.1,213.0 591.5,221.8 592.4,226.0 C593.3,227.1 595.0,227.1 595.9,227.1 C596.8,227.0 597.2,227.1 597.7,225.4 C598.2,219.2 598.9,199.3 599.2,190.0 C599.5,180.7 599.5,169.6 599.7,169.6 C599.9,169.6 600.0,183.3 600.3,190.0 C600.5,196.7 600.9,203.9 601.2,210.0 C601.6,216.1 601.5,223.8 602.4,226.6 C603.3,227.1 605.3,227.1 606.5,227.1 C607.7,226.9 608.9,226.4 609.7,225.6 C610.5,224.8 610.9,225.6 611.4,222.0 C611.9,215.2 612.3,195.4 612.6,185.0 C612.9,174.6 613.1,159.3 613.4,159.3 C613.7,159.3 613.9,175.7 614.2,185.0 C614.6,194.3 614.6,209.2 615.5,215.0 C616.4,219.7 618.1,219.4 619.6,219.7 C621.1,219.7 623.2,217.4 624.3,216.8 C625.4,216.2 625.7,216.8 626.1,216.2 C626.5,214.2 626.3,208.3 626.6,205.0 C626.9,201.7 627.4,197.3 627.8,196.3 C628.2,196.3 628.6,198.3 629.0,199.0 C629.4,199.7 629.4,199.0 629.9,200.7 C630.4,204.5 631.2,219.6 631.9,222.0 C632.6,222.0 633.5,217.7 634.2,215.0 C634.9,212.3 635.5,205.7 636.0,205.7 C636.5,206.3 636.7,214.6 637.2,218.5 C637.7,222.4 638.2,228.1 638.9,229.1 C639.6,229.1 640.6,225.7 641.3,224.4 C642.0,223.1 642.4,221.7 643.0,221.5 C643.6,221.5 644.2,223.2 644.8,223.2 C645.4,220.9 646.0,211.7 646.5,208.0 C647.0,204.3 647.2,204.4 647.7,201.0 C648.2,197.6 648.8,187.5 649.2,187.5 C649.6,188.2 650.0,200.0 650.3,205.0 C650.6,210.0 650.6,217.4 650.8,217.4 C651.0,217.4 651.2,208.1 651.5,205.0 C651.8,201.9 652.1,200.6 652.4,198.7 C652.7,196.8 653.1,198.2 653.5,193.4 C653.9,188.6 654.2,180.6 654.5,170.0 C654.8,159.4 655.2,138.7 655.5,130.0 C655.8,121.3 656.0,118.1 656.2,118.1 C656.5,118.9 656.8,126.2 657.0,135.0 C657.2,143.8 657.4,160.2 657.6,171.0 C657.9,181.8 658.1,194.3 658.5,200.0 C658.9,205.0 659.6,201.3 660.0,205.0 C660.4,208.7 660.7,222.0 661.1,222.0 C661.5,221.3 662.0,209.7 662.3,201.0 C662.6,192.3 662.6,178.5 662.9,170.0 C663.2,161.5 663.5,154.4 664.0,150.0 C664.5,145.6 665.1,143.5 665.6,143.5 C666.1,144.3 666.5,150.4 666.8,155.0 C667.1,159.6 667.3,168.3 667.6,171.2 C667.9,172.3 668.3,171.2 668.7,172.3 C669.1,177.3 669.5,191.5 669.9,201.0 C670.3,210.5 670.8,224.3 671.1,229.1 C671.4,229.7 671.1,229.6 671.7,229.7 C672.9,229.7 676.8,229.7 678.1,229.7 C679.3,224.9 678.9,212.6 679.3,201.0 C679.7,189.4 680.4,166.8 680.6,160.0" fill="none" stroke="#222" stroke-width="1.25" stroke-linejoin="round"/>
</g>
<line x1="471.5" y1="106.4" x2="471.5" y2="231.4" stroke="#5050ff" stroke-width="1.1" stroke-dasharray="1.2 0.4" opacity="0.78"/>
<line x1="511.8" y1="106" x2="511.8" y2="231.4" stroke="#5050ff" stroke-width="1.1" stroke-dasharray="1.2 0.4" opacity="0.78"/>
<line x1="542.7" y1="106.5" x2="542.7" y2="122.2" stroke="#5050ff" stroke-width="1.1" stroke-dasharray="1.2 0.4" opacity="0.78"/>
<line x1="542.7" y1="156.7" x2="542.7" y2="231.4" stroke="#5050ff" stroke-width="1.1" stroke-dasharray="1.2 0.4" opacity="0.78"/>
<polyline points="645.6,76 645.6,142.3 657.2,142.3 657.2,231.4" fill="none" stroke="#5050ff" stroke-width="1.1" stroke-dasharray="1.2 0.4" opacity="0.78"/>
<rect x="449.2" y="1.5" width="232.1" height="229.9" fill="none" stroke="#333" stroke-width="1.1"/>
<line x1="446.6" y1="24.5" x2="449.2" y2="24.5" stroke="#333" stroke-width="1"/>
<line x1="446.6" y1="47.4" x2="449.2" y2="47.4" stroke="#333" stroke-width="1"/>
<line x1="446.6" y1="70.3" x2="449.2" y2="70.3" stroke="#333" stroke-width="1"/>
<line x1="446.6" y1="93.2" x2="449.2" y2="93.2" stroke="#333" stroke-width="1"/>
<line x1="446.6" y1="116.1" x2="449.2" y2="116.1" stroke="#333" stroke-width="1"/>
<line x1="446.6" y1="139.0" x2="449.2" y2="139.0" stroke="#333" stroke-width="1"/>
<line x1="446.6" y1="161.9" x2="449.2" y2="161.9" stroke="#333" stroke-width="1"/>
<line x1="446.6" y1="184.8" x2="449.2" y2="184.8" stroke="#333" stroke-width="1"/>
<line x1="446.6" y1="207.7" x2="449.2" y2="207.7" stroke="#333" stroke-width="1"/>
<line x1="446.6" y1="230.6" x2="449.2" y2="230.6" stroke="#333" stroke-width="1"/>
<line x1="464.9" y1="229.4" x2="464.9" y2="231.4" stroke="#333" stroke-width="1"/>
<line x1="491.5" y1="229.4" x2="491.5" y2="231.4" stroke="#333" stroke-width="1"/>
<line x1="518.1" y1="229.4" x2="518.1" y2="231.4" stroke="#333" stroke-width="1"/>
<line x1="544.7" y1="229.4" x2="544.7" y2="231.4" stroke="#333" stroke-width="1"/>
<line x1="571.3" y1="229.4" x2="571.3" y2="231.4" stroke="#333" stroke-width="1"/>
<line x1="597.9" y1="229.4" x2="597.9" y2="231.4" stroke="#333" stroke-width="1"/>
<line x1="624.5" y1="229.4" x2="624.5" y2="231.4" stroke="#333" stroke-width="1"/>
<line x1="651.1" y1="229.4" x2="651.1" y2="231.4" stroke="#333" stroke-width="1"/>
<line x1="677.7" y1="229.4" x2="677.7" y2="231.4" stroke="#333" stroke-width="1"/>
<text x="482.5" y="242.8" font-size="10.6" fill="#2a2a2a" stroke="#2a2a2a" stroke-width="0.15" textLength="17.2" lengthAdjust="spacingAndGlyphs">0.0</text>
<text x="509.1" y="242.8" font-size="10.6" fill="#2a2a2a" stroke="#2a2a2a" stroke-width="0.15" textLength="17.2" lengthAdjust="spacingAndGlyphs">0.5</text>
<text x="535.7" y="242.8" font-size="10.6" fill="#2a2a2a" stroke="#2a2a2a" stroke-width="0.15" textLength="17.2" lengthAdjust="spacingAndGlyphs">1.0</text>
<text x="562.3" y="242.8" font-size="10.6" fill="#2a2a2a" stroke="#2a2a2a" stroke-width="0.15" textLength="17.2" lengthAdjust="spacingAndGlyphs">1.5</text>
<text x="588.9" y="242.8" font-size="10.6" fill="#2a2a2a" stroke="#2a2a2a" stroke-width="0.15" textLength="17.2" lengthAdjust="spacingAndGlyphs">2.0</text>
<text x="615.5" y="242.8" font-size="10.6" fill="#2a2a2a" stroke="#2a2a2a" stroke-width="0.15" textLength="17.2" lengthAdjust="spacingAndGlyphs">2.5</text>
<text x="642.1" y="242.8" font-size="10.6" fill="#2a2a2a" stroke="#2a2a2a" stroke-width="0.15" textLength="17.2" lengthAdjust="spacingAndGlyphs">3.0</text>
<text x="668.7" y="242.8" font-size="10.6" fill="#2a2a2a" stroke="#2a2a2a" stroke-width="0.15" textLength="17.2" lengthAdjust="spacingAndGlyphs">3.5</text>
<text x="449.6" y="242.8" font-size="10.6" fill="#2a2a2a" stroke="#2a2a2a" stroke-width="0.15" textLength="4.4" lengthAdjust="spacingAndGlyphs">-</text>
<text x="453.6" y="242.8" font-size="10.6" fill="#2a2a2a" stroke="#2a2a2a" stroke-width="0.15" textLength="17.2" lengthAdjust="spacingAndGlyphs">0.5</text>
<g fill="#222" stroke="#222" stroke-width="0.2">
<text x="537.4" y="261.2" font-size="12.3" textLength="20" lengthAdjust="spacingAndGlyphs">E-E</text>
<text x="559.2" y="263.9" font-size="8.8" textLength="5" lengthAdjust="spacingAndGlyphs">F</text>
<text x="564.6" y="261.2" font-size="12.3" textLength="28.4" lengthAdjust="spacingAndGlyphs">(eV)</text>
</g>
<text transform="translate(440.3,162.4) rotate(-90)" font-size="14.2" fill="#222" textLength="100" lengthAdjust="spacingAndGlyphs">DOS(arb.units)</text>
<text x="460.1" y="102.7" font-size="9" fill="#1e1e1e" textLength="19.3" lengthAdjust="spacingAndGlyphs">VBM</text>
<text x="502" y="102.7" font-size="9" fill="#1e1e1e" textLength="19.2" lengthAdjust="spacingAndGlyphs">CBM</text>
<text x="525.2" y="97.8" font-size="9" fill="#1e1e1e" textLength="31.8" lengthAdjust="spacingAndGlyphs">CBM+1</text>
<rect x="452.3" y="4.3" width="53.8" height="30.8" rx="2" fill="#fff" stroke="#dcdcdc" stroke-width="0.9"/>
<line x1="455.2" y1="9.7" x2="469.7" y2="9.7" stroke="#f27a80" stroke-width="1.3"/>
<line x1="455.2" y1="12.3" x2="469.7" y2="12.3" stroke="#808080" stroke-width="1.3"/>
<rect x="455.2" y="20.3" width="14.5" height="4.3" fill="#f06a74"/>
<rect x="455.2" y="25.6" width="14.5" height="5" fill="#7a7a7a"/>
<text x="475.3" y="13.5" font-size="7.6" fill="#333" textLength="15.2" lengthAdjust="spacingAndGlyphs">Total</text>
<text x="472.6" y="27.8" font-size="7.6" fill="#333" textLength="28.6" lengthAdjust="spacingAndGlyphs">C 3s+3p</text>
<rect x="520.1" y="6.6" width="46.8" height="34.9" fill="#fff" stroke="#f08a90" stroke-width="1"/>
<rect x="520.1" y="122.1" width="47.3" height="35" fill="#fff" stroke="#888" stroke-width="1"/>
<line x1="526.3" y1="12.3" x2="532.3" y2="16.6" stroke="#9a9a9a" stroke-width="0.6"/>
<line x1="555.5" y1="16.6" x2="562.7" y2="20.5" stroke="#9a9a9a" stroke-width="0.6"/>
<line x1="526.3" y1="27.6" x2="532.3" y2="31.5" stroke="#9a9a9a" stroke-width="0.6"/>
<line x1="555.5" y1="31.5" x2="562.7" y2="35.5" stroke="#9a9a9a" stroke-width="0.6"/>
<circle cx="526.3" cy="12.3" r="2.05" fill="#fff" stroke="#8c8c8c" stroke-width="0.6"/>
<circle cx="539.5" cy="12.3" r="2.05" fill="#fff" stroke="#8c8c8c" stroke-width="0.6"/>
<circle cx="543.8" cy="12.3" r="2.05" fill="#fff" stroke="#8c8c8c" stroke-width="0.6"/>
<circle cx="548.1" cy="12.3" r="2.05" fill="#fff" stroke="#8c8c8c" stroke-width="0.6"/>
<circle cx="532.3" cy="16.6" r="2.05" fill="#fff" stroke="#8c8c8c" stroke-width="0.6"/>
<circle cx="537.3" cy="16.6" r="2.05" fill="#fff" stroke="#8c8c8c" stroke-width="0.6"/>
<circle cx="541.6" cy="16.6" r="2.05" fill="#fff" stroke="#8c8c8c" stroke-width="0.6"/>
<circle cx="545.9" cy="16.6" r="2.05" fill="#fff" stroke="#8c8c8c" stroke-width="0.6"/>
<circle cx="550.7" cy="16.6" r="2.05" fill="#fff" stroke="#8c8c8c" stroke-width="0.6"/>
<circle cx="555.5" cy="16.6" r="2.05" fill="#fff" stroke="#8c8c8c" stroke-width="0.6"/>
<circle cx="539.5" cy="20.5" r="2.05" fill="#fff" stroke="#8c8c8c" stroke-width="0.6"/>
<circle cx="543.8" cy="20.5" r="2.05" fill="#fff" stroke="#8c8c8c" stroke-width="0.6"/>
<circle cx="548.1" cy="20.5" r="2.05" fill="#fff" stroke="#8c8c8c" stroke-width="0.6"/>
<circle cx="562.7" cy="20.5" r="2.05" fill="#fff" stroke="#8c8c8c" stroke-width="0.6"/>
<circle cx="541.6" cy="24.1" r="2.05" fill="#fff" stroke="#8c8c8c" stroke-width="0.6"/>
<circle cx="545.9" cy="24.1" r="2.05" fill="#fff" stroke="#8c8c8c" stroke-width="0.6"/>
<circle cx="526.3" cy="27.6" r="2.05" fill="#fff" stroke="#8c8c8c" stroke-width="0.6"/>
<circle cx="539.5" cy="27.6" r="2.05" fill="#fff" stroke="#8c8c8c" stroke-width="0.6"/>
<circle cx="543.8" cy="27.6" r="2.05" fill="#fff" stroke="#8c8c8c" stroke-width="0.6"/>
<circle cx="548.1" cy="27.6" r="2.05" fill="#fff" stroke="#8c8c8c" stroke-width="0.6"/>
<circle cx="532.3" cy="31.5" r="2.05" fill="#fff" stroke="#8c8c8c" stroke-width="0.6"/>
<circle cx="537.3" cy="31.5" r="2.05" fill="#fff" stroke="#8c8c8c" stroke-width="0.6"/>
<circle cx="541.6" cy="31.5" r="2.05" fill="#fff" stroke="#8c8c8c" stroke-width="0.6"/>
<circle cx="545.9" cy="31.5" r="2.05" fill="#fff" stroke="#8c8c8c" stroke-width="0.6"/>
<circle cx="550.7" cy="31.5" r="2.05" fill="#fff" stroke="#8c8c8c" stroke-width="0.6"/>
<circle cx="555.5" cy="31.5" r="2.05" fill="#fff" stroke="#8c8c8c" stroke-width="0.6"/>
<circle cx="539.5" cy="35.5" r="2.05" fill="#fff" stroke="#8c8c8c" stroke-width="0.6"/>
<circle cx="543.8" cy="35.5" r="2.05" fill="#fff" stroke="#8c8c8c" stroke-width="0.6"/>
<circle cx="548.1" cy="35.5" r="2.05" fill="#fff" stroke="#8c8c8c" stroke-width="0.6"/>
<circle cx="562.7" cy="35.5" r="2.05" fill="#fff" stroke="#8c8c8c" stroke-width="0.6"/>
<circle cx="539.5" cy="128.6" r="2.05" fill="#fff" stroke="#8c8c8c" stroke-width="0.6"/>
<circle cx="543.8" cy="128.6" r="2.05" fill="#fff" stroke="#8c8c8c" stroke-width="0.6"/>
<circle cx="547.8" cy="128.6" r="2.05" fill="#fff" stroke="#8c8c8c" stroke-width="0.6"/>
<circle cx="533" cy="132.2" r="2.05" fill="#fff" stroke="#8c8c8c" stroke-width="0.6"/>
<circle cx="537.3" cy="132.2" r="2.05" fill="#fff" stroke="#8c8c8c" stroke-width="0.6"/>
<circle cx="541.6" cy="132.2" r="2.05" fill="#fff" stroke="#8c8c8c" stroke-width="0.6"/>
<circle cx="545.9" cy="132.2" r="2.05" fill="#fff" stroke="#8c8c8c" stroke-width="0.6"/>
<circle cx="550.2" cy="132.2" r="2.05" fill="#fff" stroke="#8c8c8c" stroke-width="0.6"/>
<circle cx="554.5" cy="132.2" r="2.05" fill="#fff" stroke="#8c8c8c" stroke-width="0.6"/>
<circle cx="527.3" cy="135.5" r="2.05" fill="#fff" stroke="#8c8c8c" stroke-width="0.6"/>
<circle cx="539.5" cy="135.5" r="2.05" fill="#fff" stroke="#8c8c8c" stroke-width="0.6"/>
<circle cx="543.8" cy="135.5" r="2.05" fill="#fff" stroke="#8c8c8c" stroke-width="0.6"/>
<circle cx="547.8" cy="135.5" r="2.05" fill="#fff" stroke="#8c8c8c" stroke-width="0.6"/>
<circle cx="560.3" cy="135.5" r="2.05" fill="#fff" stroke="#8c8c8c" stroke-width="0.6"/>
<circle cx="541.6" cy="139.3" r="2.05" fill="#fff" stroke="#8c8c8c" stroke-width="0.6"/>
<circle cx="545.9" cy="139.3" r="2.05" fill="#fff" stroke="#8c8c8c" stroke-width="0.6"/>
<circle cx="527.3" cy="142.9" r="2.05" fill="#fff" stroke="#8c8c8c" stroke-width="0.6"/>
<circle cx="539.5" cy="142.9" r="2.05" fill="#fff" stroke="#8c8c8c" stroke-width="0.6"/>
<circle cx="543.8" cy="142.9" r="2.05" fill="#fff" stroke="#8c8c8c" stroke-width="0.6"/>
<circle cx="547.8" cy="142.9" r="2.05" fill="#fff" stroke="#8c8c8c" stroke-width="0.6"/>
<circle cx="560.3" cy="142.9" r="2.05" fill="#fff" stroke="#8c8c8c" stroke-width="0.6"/>
<circle cx="533" cy="146.5" r="2.05" fill="#fff" stroke="#8c8c8c" stroke-width="0.6"/>
<circle cx="537.3" cy="146.5" r="2.05" fill="#fff" stroke="#8c8c8c" stroke-width="0.6"/>
<circle cx="541.6" cy="146.5" r="2.05" fill="#fff" stroke="#8c8c8c" stroke-width="0.6"/>
<circle cx="545.9" cy="146.5" r="2.05" fill="#fff" stroke="#8c8c8c" stroke-width="0.6"/>
<circle cx="550.2" cy="146.5" r="2.05" fill="#fff" stroke="#8c8c8c" stroke-width="0.6"/>
<circle cx="554.5" cy="146.5" r="2.05" fill="#fff" stroke="#8c8c8c" stroke-width="0.6"/>
<circle cx="539.5" cy="150.1" r="2.05" fill="#fff" stroke="#8c8c8c" stroke-width="0.6"/>
<circle cx="543.8" cy="150.1" r="2.05" fill="#fff" stroke="#8c8c8c" stroke-width="0.6"/>
<circle cx="547.8" cy="150.1" r="2.05" fill="#fff" stroke="#8c8c8c" stroke-width="0.6"/>
</svg></body></html>
